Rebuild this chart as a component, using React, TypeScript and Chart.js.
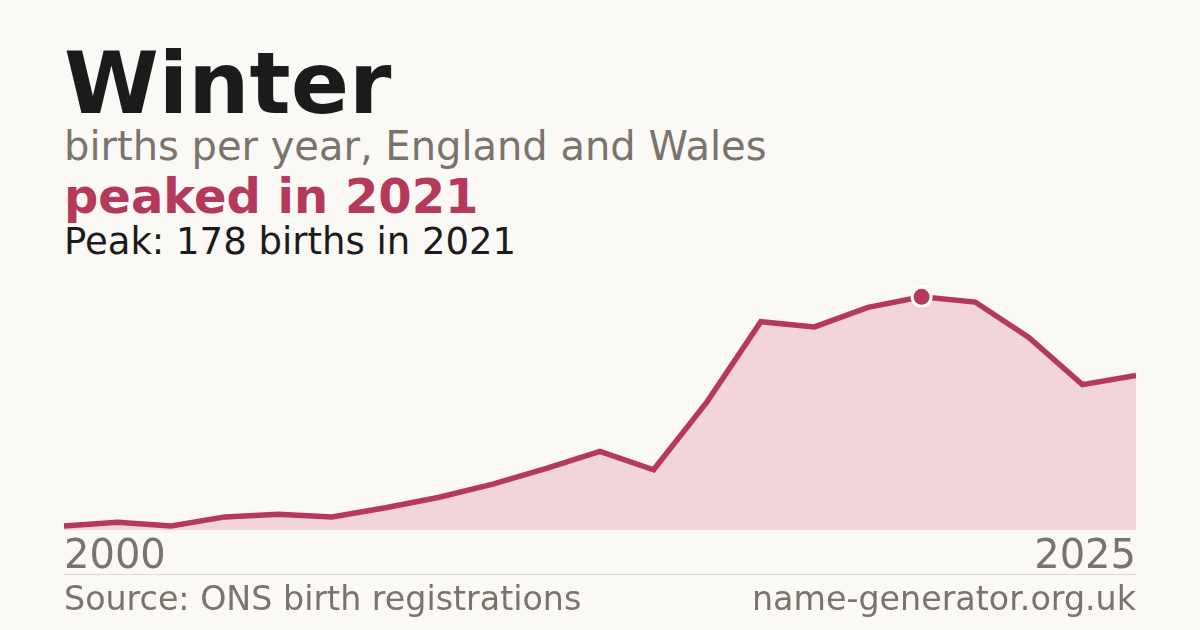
import React, { useEffect, useRef } from "react";
import { Chart, registerables } from "chart.js";

Chart.register(...registerables);

const years = [
  "2005", "2006", "2007", "2008", "2009", "2010", "2011", "2012", "2013", "2014",
  "2015", "2016", "2017", "2018", "2019", "2020", "2021", "2022", "2023", "2024", "2025",
];
const births = [3, 6, 3, 10, 12, 10, 17, 25, 35, 47, 60, 46, 98, 159, 155, 170, 178, 174, 147, 111, 118];
const edgeLabels = ["2000", "2025"];

const RED = "#b5395a";
const GRAY = "#7a746c";
const DARK = "#1b1b1b";
const BG = "#faf9f5";
const FONT = "'DejaVu Sans', sans-serif";

export default function App() {
  const ref = useRef<HTMLCanvasElement | null>(null);

  useEffect(() => {
    if (!ref.current) return;
    const peak = Math.max(...births);
    const chart = new Chart(ref.current, {
      type: "line",
      data: {
        labels: years,
        datasets: [
          {
            data: births,
            borderColor: RED,
            borderWidth: 5.5,
            backgroundColor: "#f1d5db",
            fill: "origin",
            tension: 0,
            pointRadius: births.map((v) => (v === peak ? 9.5 : 0)),
            pointBackgroundColor: RED,
            pointBorderColor: "#ffffff",
            pointBorderWidth: 3,
            borderJoinStyle: "miter",
          },
        ],
      },
      options: {
        animation: false,
        responsive: false,
        maintainAspectRatio: false,
        layout: { padding: 0, autoPadding: false },
        plugins: { legend: { display: false }, tooltip: { enabled: false } },
        scales: {
          y: { display: false, min: 0, max: 200 },
          x: {
            offset: false,
            grid: { display: false, drawTicks: false },
            border: { display: false },
            afterFit: (axis: any) => {
              axis.height = 48;
              axis.paddingLeft = 0;
              axis.paddingRight = 0;
            },
            ticks: {
              autoSkip: false,
              maxRotation: 0,
              minRotation: 0,
              align: "inner",
              padding: 4,
              color: GRAY,
              font: { family: FONT, size: 40 },
              callback: (_v: any, i: number) =>
                i === 0 ? edgeLabels[0] : i === years.length - 1 ? edgeLabels[1] : "",
            },
          },
        },
      },
    });
    return () => chart.destroy();
  }, []);

  const txt = (top: number, size: number, color: string, weight: number, s: string) => (
    <div
      style={{
        position: "absolute",
        left: 64,
        top,
        fontSize: size,
        lineHeight: 1,
        color,
        fontWeight: weight,
        whiteSpace: "nowrap",
      }}
    >
      {s}
    </div>
  );

  return (
    <div
      style={{
        position: "absolute",
        left: 0,
        top: 0,
        width: 1200,
        height: 630,
        background: BG,
        fontFamily: FONT,
        overflow: "hidden",
      }}
    >
      {txt(39.9, 86, DARK, 700, "Winter")}
      {txt(125.5, 40, GRAY, 400, "births per year, England and Wales")}
      {txt(172.1, 48, RED, 700, "peaked in 2021")}
      {txt(222.5, 37, DARK, 400, "Peak: 178 births in 2021")}
      <canvas
        ref={ref}
        width={1072}
        height={310}
        style={{ position: "absolute", left: 64, top: 268, width: 1072, height: 310 }}
      />
      <div
        style={{ position: "absolute", left: 64, top: 574, width: 1072, height: 1, background: "#dedbd4" }}
      />
      <div
        style={{
          position: "absolute",
          left: 64,
          right: 64,
          top: 581.8,
          fontSize: 33.3,
          lineHeight: 1,
          color: GRAY,
          display: "flex",
          justifyContent: "space-between",
          whiteSpace: "nowrap",
        }}
      >
        <span>Source: ONS birth registrations</span>
        <span>name-generator.org.uk</span>
      </div>
    </div>
  );
}
